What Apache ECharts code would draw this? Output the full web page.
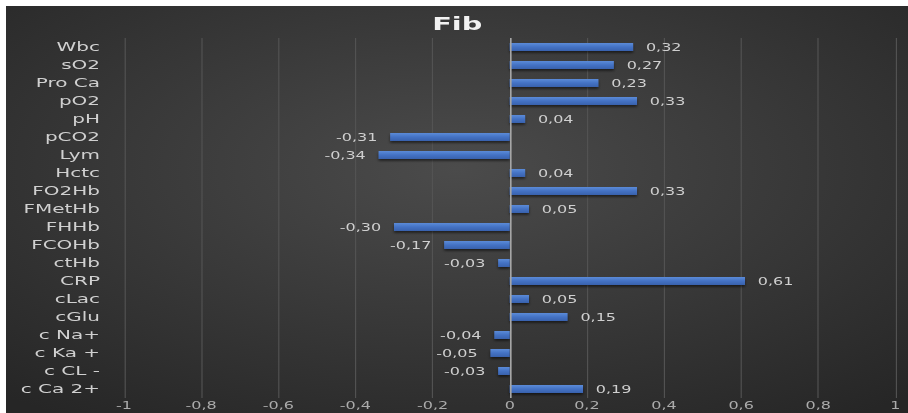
<!DOCTYPE html>
<html>
<head>
<meta charset="utf-8">
<script src="https://cdn.jsdelivr.net/npm/echarts@6/dist/echarts.min.js"></script>
<style>
  html, body { margin: 0; padding: 0; background: #fff; }
  #wrap { position: absolute; left: 6px; top: 6px; width: 902px; height: 407px; overflow: hidden; }
  /* the source picture is stretched sideways, so the chart is too */
  #chart { width: 563.75px; height: 407px; transform: scaleX(1.6); transform-origin: 0 0; }
</style>
</head>
<body>
<div id="wrap"><div id="chart"></div></div>
<script>
// 类别 (top to bottom)
var categories = ['Wbc', 'sO2', 'Pro Ca', 'pO2', 'pH', 'pCO2', 'Lym', 'Hctc', 'FO2Hb', 'FMetHb',
  'FHHb', 'FCOHb', 'ctHb', 'CRP', 'cLac', 'cGlu', 'c Na+', 'c Ka +', 'c CL -', 'c Ca 2+']
// 相关系数
var values = [0.32, 0.27, 0.23, 0.33, 0.04, -0.31, -0.34, 0.04, 0.33, 0.05,
  -0.30, -0.17, -0.03, 0.61, 0.05, 0.15, -0.04, -0.05, -0.03, 0.19]
var chartTitle = 'Fib'

function comma(v) {
  return String(v).replace('.', ',')
}

var myChart = echarts.init(document.getElementById('chart'), null, { renderer: 'svg' })
myChart.setOption({
  backgroundColor: {
    type: 'radial', x: 0.5, y: 0.4, r: 0.75,
    colorStops: [
      { offset: 0, color: '#4b4b4b' },
      { offset: 1, color: '#262626' }
    ]
  },
  title: {
    text: chartTitle,
    left: 'center',
    top: 4,
    textStyle: { color: '#f2f2f2', fontSize: 18, fontWeight: 'bold', fontFamily: 'DejaVu Sans' }
  },
  grid: { left: 73.75, right: 8.1, top: 32, bottom: 15, containLabel: false },
  xAxis: {
    type: 'value',
    min: -1,
    max: 1,
    interval: 0.2,
    axisLine: { show: false },
    axisTick: { show: false },
    splitLine: { show: true, lineStyle: { color: '#545454', width: 0.7 } },
    axisLabel: {
      color: '#ababab',
      fontSize: 10,
      fontFamily: 'DejaVu Sans',
      margin: 3,
      formatter: function (v) { return comma(Math.round(v * 10) / 10) }
    }
  },
  yAxis: {
    type: 'category',
    data: categories,
    inverse: true,
    axisLine: { show: false },
    axisTick: { show: false },
    splitLine: { show: false },
    axisLabel: { color: '#d0d0d0', fontSize: 12.5, fontFamily: 'DejaVu Sans', margin: 15 }
  },
  series: [{
    type: 'bar',
    data: values.map(function (v) {
      return {
        value: v,
        label: { position: v < 0 ? 'left' : 'right' }
      }
    }),
    barWidth: 8,
    itemStyle: {
      color: {
        type: 'linear', x: 0, y: 0, x2: 0, y2: 1,
        colorStops: [
          { offset: 0, color: '#5b8bd8' },
          { offset: 0.5, color: '#4472c4' },
          { offset: 1, color: '#3862ad' }
        ]
      },
      shadowColor: 'rgba(0,0,0,0.5)',
      shadowBlur: 2,
      shadowOffsetY: 2
    },
    label: {
      show: true,
      distance: 8,
      offset: [0, 1],
      color: '#cfcfcf',
      fontSize: 10,
      fontFamily: 'DejaVu Sans',
      formatter: function (p) { return comma(p.value.toFixed(2)) }
    },
    markLine: {
      silent: true,
      symbol: 'none',
      label: { show: false },
      lineStyle: { color: '#a6a6a6', width: 1, type: 'solid' },
      data: [{ xAxis: 0 }]
    }
  }]
})
</script>
</body>
</html>
